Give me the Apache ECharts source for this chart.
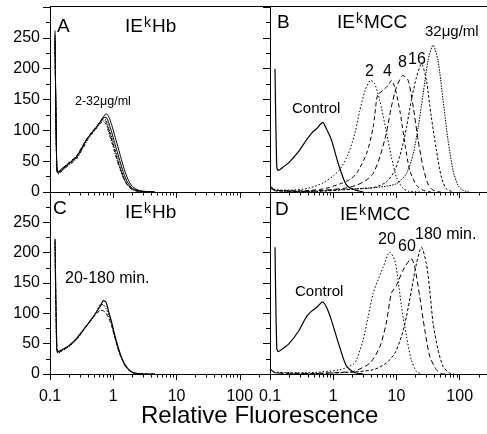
<!DOCTYPE html>
<html><head><meta charset="utf-8">
<script src="https://cdn.jsdelivr.net/npm/echarts@6/dist/echarts.min.js"></script>
<style>html,body{margin:0;padding:0;background:#fff}#c{width:487px;height:434px}</style>
</head><body><div id="c"></div>
<script>
// ---------- tick labels ----------
const xTickValues = [0.1, 1, 10, 100];
const xTickLabels = ['0.1', '1', '10', '100'];
const xMinorValues = [0.2,0.3,0.4,0.5,0.6,0.7,0.8,0.9,2,3,4,5,6,7,8,9,20,30,40,50,60,70,80,90,200];
const yTickValues = [0, 50, 100, 150, 200, 250];

// ---------- Panel A : IEkHb 2-32 ug/ml ----------
const xA = [0.12, 0.128, 0.135, 0.15, 0.2, 0.26, 0.32, 0.38, 0.45, 0.55, 0.63, 0.7, 0.77, 0.85, 0.95, 1.05, 1.15, 1.3, 1.5, 1.7, 2.0, 2.5, 3.2, 4.5];
const yA1 = [262, 40, 33, 37, 47, 57, 72, 85, 95, 106, 115, 122, 127, 122, 108, 92, 78, 58, 36, 21, 9, 3, 1, 0];
const yA2 = [250, 36, 30, 34, 45, 55, 70, 84, 94, 105, 113, 120, 117, 104, 88, 72, 58, 40, 22, 12, 5, 1.5, 0.3, 0];
const yA3 = [245, 38, 32, 36, 48, 58, 73, 86, 96, 107, 114, 118, 114, 100, 84, 68, 54, 37, 20, 11, 4, 1.2, 0.3, 0];
const yA4 = [240, 35, 29, 33, 44, 53, 68, 82, 93, 104, 111, 115, 110, 96, 80, 65, 51, 35, 19, 10, 4, 1, 0.2, 0];
const yA5 = [255, 39, 31, 35, 46, 56, 71, 85, 95, 106, 114, 121, 121, 112, 96, 80, 66, 47, 27, 15, 6, 2, 0.5, 0];

// ---------- Panel C : IEkHb 20-180 min ----------
const xC = xA;
const yC1 = [223, 42, 37, 39, 47, 58, 70, 80, 90, 103, 113, 121, 118, 102, 84, 65, 50, 32, 17, 9, 3, 0.5, 0, 0];
const yC2 = [220, 40, 35, 38, 46, 57, 69, 80, 90, 100, 105, 104, 100, 92, 78, 61, 47, 30, 16, 8, 2.5, 0.5, 0, 0];
const yC3 = [215, 38, 34, 37, 45, 56, 68, 79, 89, 104, 115, 114, 108, 96, 80, 62, 47, 30, 15, 8, 2, 0.5, 0, 0];

// ---------- Controls (B, D) ----------
const xCtrl = [0.12, 0.128, 0.135, 0.16, 0.2, 0.28, 0.38, 0.46, 0.55, 0.68, 0.8, 0.94, 1.2, 1.6, 2.1, 3];
const yCtrlB = [200, 40, 35, 40, 48, 65, 85, 96, 103, 113, 100, 84, 46, 12, 4, 0];
const yCtrlD = [209, 42, 37, 42, 50, 70, 95, 104, 110, 119, 108, 88, 52, 14, 3, 0];

// ---------- Panel B : IEkMCC 2..32 ug/ml ----------
const xB2 = [0.105, 0.12, 0.2, 0.4, 0.7, 1.0, 1.3, 1.7, 2.2, 2.6, 3.2, 3.9, 4.5, 5.4, 7.0, 8.3, 10, 12.7, 16, 25];
const yB2 = [9, 4, 3, 6, 15, 26, 38, 60, 95, 130, 165, 181, 176, 150, 95, 57, 24, 6, 1, 0];
const xB4 = [0.105, 0.12, 0.3, 0.7, 1.27, 1.8, 2.33, 3.36, 4.28, 4.83, 5.1, 6.15, 7.4, 8.3, 9.4, 11.3, 13.6, 16.2, 20.7, 26, 35];
const yB4 = [8, 3, 2, 5, 13, 20, 30, 62, 105, 149, 158, 165, 173, 181, 170, 132, 78, 35, 11, 3, 0];
const xB8 = [0.105, 0.12, 0.3, 0.69, 1.5, 2.33, 3.3, 4.28, 5.46, 6.9, 8.3, 10, 12.7, 15.3, 18.4, 22, 26.4, 31.5, 37.9, 50];
const yB8 = [7, 3, 1, 3, 6, 11, 19, 30, 57, 95, 138, 170, 189, 181, 138, 84, 40, 13, 3, 0];
const xB16 = [0.105, 0.12, 0.5, 1.27, 2.5, 4.28, 6.9, 9.4, 12, 14.4, 17.2, 20.7, 24.8, 29.7, 35.5, 42.8, 51.3, 61.5, 80];
const yB16 = [6, 2, 1, 3, 5, 7, 16, 35, 68, 105, 149, 186, 208, 181, 122, 68, 24, 5, 0];
const xB32 = [0.105, 0.12, 0.5, 1.27, 3, 5.46, 10, 14.4, 18.4, 22, 26.4, 31.5, 37.9, 45.4, 54.5, 65.4, 78.5, 94, 113, 140];
const yB32 = [5, 2, 1, 4, 6, 8, 13.5, 30, 62, 105, 159, 213, 238, 213, 149, 84, 35, 11, 3, 0];

// ---------- Panel D : IEkMCC 20/60/180 min ----------
const xD20 = [0.105, 0.12, 0.38, 1.27, 2.07, 2.33, 2.97, 3.57, 4.28, 5.1, 6.15, 7.85, 9.4, 10.6, 12, 14.4, 17.2, 20.7, 24.8];
const yD20 = [8, 3, 2, 7, 16, 23, 56, 95, 133, 155, 176, 201, 187, 155, 111, 62, 23, 4, 0];
const xD60 = [0.105, 0.12, 0.5, 1.5, 2.07, 3.8, 5.46, 6.9, 8.3, 10, 12.7, 17.2, 19.5, 23.4, 28, 33.6, 42.8, 51.3, 60];
const yD60 = [7, 2, 1, 3, 4, 18, 45, 84, 133, 146, 171, 190, 176, 127, 73, 29, 7, 0.5, 0];
const xD180 = [0.105, 0.12, 0.5, 1.27, 4.28, 6.9, 9.4, 12, 14.4, 17.2, 20.7, 24.8, 29.7, 33.6, 37.9, 45.4, 54.5, 68.6, 82];
const yD180 = [6, 2, 1, 2, 7, 18, 34, 62, 95, 138, 182, 209, 182, 138, 84, 40, 12.6, 1.6, 0];

// ---------- build ----------
const FONT = '"Liberation Sans", Arial, Helvetica, sans-serif';
const grids = [
  {left: 50, top: 7, width: 220, height: 185, xmax: 300, xlab: false, ylab: true},   // A
  {left: 270, top: 7, width: 217, height: 185, xmax: 270, xlab: false, ylab: false}, // B
  {left: 50, top: 192, width: 220, height: 182, xmax: 300, xlab: true, ylab: true},  // C
  {left: 270, top: 192, width: 217, height: 182, xmax: 270, xlab: true, ylab: false} // D
];
const xAxes = [], yAxes = [];
grids.forEach((g, i) => {
  xAxes.push({
    type: 'log', logBase: 10, min: 0.1, max: g.xmax, gridIndex: i, position: 'bottom',
    axisLine: {show: true, lineStyle: {color: '#000', width: 1}},
    axisTick: {show: true, customValues: xTickValues, length: 6, lineStyle: {color: '#000'}},
    axisLabel: {show: g.xlab, customValues: xTickValues, color: '#000', fontSize: 16, fontFamily: FONT, margin: 15,
      formatter: v => xTickLabels[Math.round(Math.log10(v)) + 1]},
    splitLine: {show: false}
  });
  xAxes.push({
    type: 'log', logBase: 10, min: 0.1, max: g.xmax, gridIndex: i, position: 'bottom',
    axisLine: {show: false},
    axisTick: {show: true, customValues: xMinorValues, length: 3.5, lineStyle: {color: '#000'}},
    axisLabel: {show: false}, splitLine: {show: false}
  });
  yAxes.push({
    type: 'value', min: 0, max: 300, interval: 50, gridIndex: i,
    axisLine: {show: true, lineStyle: {color: '#000', width: 1}},
    axisTick: {show: true, length: 7, lineStyle: {color: '#000'}},
    minorTick: {show: true, splitNumber: 2, length: 4, lineStyle: {color: '#000'}},
    splitLine: {show: false}, minorSplitLine: {show: false},
    axisLabel: {show: g.ylab, showMaxLabel: false, color: '#000', fontSize: 16, fontFamily: FONT, margin: 10}
  });
});

function line(xs, ys, gi, type, w) {
  return {type: 'line', xAxisIndex: gi * 2, yAxisIndex: gi, data: xs.map((x, k) => [x, ys[k]]),
    symbol: 'none', smooth: 0.25, silent: true,
    lineStyle: {color: '#000', width: w || 1, type: type}};
}
const series = [
  line(xA, yA2, 0, [1.5, 1.5]), line(xA, yA3, 0, [4, 2]), line(xA, yA4, 0, [3, 1.5, 1, 1.5]),
  line(xA, yA5, 0, 'solid'), line(xA, yA1, 0, 'solid'),
  line(xCtrl, yCtrlB, 1, 'solid', 1.2),
  line(xB2, yB2, 1, [1.5, 2]), line(xB4, yB4, 1, [4, 3]), line(xB8, yB8, 1, [5, 3]),
  line(xB16, yB16, 1, [2.5, 2]), line(xB32, yB32, 1, [1.5, 1.2]),
  line(xC, yC2, 2, [4, 2]), line(xC, yC3, 2, [1.5, 1.5]), line(xC, yC1, 2, 'solid', 1.2),
  line(xCtrl, yCtrlD, 3, 'solid', 1.2),
  line(xD20, yD20, 3, [1.5, 2]), line(xD60, yD60, 3, [5, 3]), line(xD180, yD180, 3, [3, 2])
];

function t(text, left, baseline, fs) {
  return {type: 'text', left: left, top: baseline - 0.85 * fs, z: 100,
    style: {text: text, font: fs + 'px ' + FONT, fill: '#000'}};
}
const graphic = [
  {type: 'line', z: 100, shape: {x1: 50, y1: 6.5, x2: 487, y2: 6.5}, style: {stroke: '#000', lineWidth: 1}},
  // A
  t('A', 57, 33, 19), t('IE', 125, 33.3, 19), t('k', 144, 28, 14), t('Hb', 152, 33.3, 19),
  t('2-32\u03bcg/ml', 75, 106, 12.5),
  // B
  t('B', 277, 29.5, 19), t('IE', 337, 29.5, 19), t('k', 356, 24, 14), t('MCC', 364, 29.5, 19),
  t('Control', 292, 114.5, 15),
  t('2', 365, 77, 16), t('4', 383, 77, 16), t('8', 398, 68, 16), t('16', 408, 65, 16),
  t('32\u03bcg/ml', 425, 37, 15),
  // C
  t('C', 53, 215, 19), t('IE', 125, 219.3, 19), t('k', 144, 214, 14), t('Hb', 152, 219.3, 19),
  t('20-180 min.', 65, 284, 16),
  // D
  t('D', 275, 216.7, 19), t('IE', 340, 221.7, 19), t('k', 359, 216, 14), t('MCC', 367, 221.7, 19),
  t('Control', 295, 296.7, 15),
  t('20', 378, 245, 16), t('60', 398, 251.7, 16), t('180 min.', 415, 240, 16),
  // axis title
  t('Relative Fluorescence', 141, 425, 24)
];

const chart = echarts.init(document.getElementById('c'), null, {renderer: 'canvas'});
chart.setOption({
  animation: false,
  backgroundColor: '#fff',
  grid: grids.map(g => ({left: g.left, top: g.top, width: g.width, height: g.height, containLabel: false})),
  xAxis: xAxes, yAxis: yAxes, series: series, graphic: graphic
});
</script></body></html>
